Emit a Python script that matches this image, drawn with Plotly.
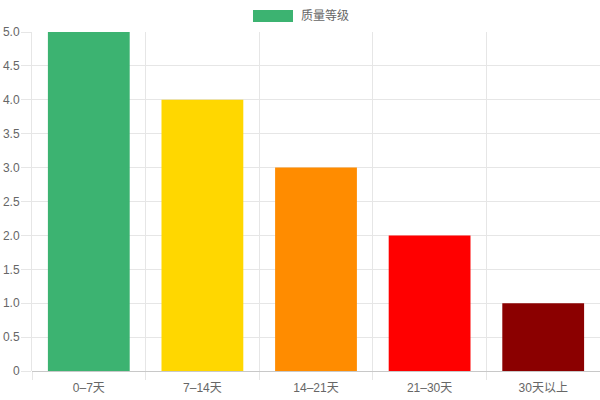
import plotly.graph_objects as go

categories = ["0–7天", "7–14天", "14–21天", "21–30天", "30天以上"]
values = [5, 4, 3, 2, 1]
bar_colors = ["#3cb371", "#ffd700", "#ff8c00", "#ff0000", "#8b0000"]
series_name = "质量等级"
y_tick_vals = [0, 0.5, 1, 1.5, 2, 2.5, 3, 3.5, 4, 4.5, 5]
y_tick_text = ["0", "0.5", "1.0", "1.5", "2.0", "2.5", "3.0", "3.5", "4.0", "4.5", "5.0"]

W, H = 600, 400
L, R, T, B = 32, 0, 32, 29
pw, ph = W - L - R, H - T - B

def px_x(p):
    return (p - L) / pw

def px_y(p):
    return (H - B - p) / ph

x_idx = list(range(len(categories)))
boundaries = [i - 0.5 for i in range(len(categories) + 1)]

font_family = "Liberation Sans, Arial, Noto Sans CJK SC, sans-serif"
grid = "#e6e6e6"

fig = go.Figure(go.Bar(
    x=x_idx, y=values, name=series_name,
    marker=dict(color=bar_colors, line=dict(width=0)),
    showlegend=False, hoverinfo="x+y",
))

fig.update_layout(
    width=W, height=H,
    margin=dict(l=L, r=R, t=T, b=B, pad=0),
    paper_bgcolor="white", plot_bgcolor="white",
    bargap=0.28,
    font=dict(family=font_family, size=12, color="#666666"),
    xaxis=dict(
        range=[-0.5, len(categories) - 0.5],
        tickmode="array", tickvals=x_idx, ticktext=categories,
        ticks="", showgrid=False, zeroline=False, showline=False,
        tickfont=dict(size=12, color="#666666"),
        ticklabelstandoff=8,
        automargin=False,
        minor=dict(
            tickmode="array", tickvals=boundaries,
            ticks="outside", ticklen=8, tickcolor=grid, tickwidth=1,
            showgrid=True, gridcolor=grid, gridwidth=1,
        ),
        fixedrange=True,
    ),
    yaxis=dict(
        range=[0, 5],
        tickmode="array", tickvals=y_tick_vals, ticktext=y_tick_text,
        ticks="outside", ticklen=10, tickcolor=grid, tickwidth=1,
        showgrid=True, gridcolor=grid, gridwidth=1,
        zeroline=True, zerolinecolor="#c8c8c8", zerolinewidth=1,
        showline=True, linecolor=grid, linewidth=1,
        tickfont=dict(size=12, color="#666666"),
        ticklabelstandoff=-1,
        automargin=False,
        fixedrange=True,
    ),
    shapes=[dict(
        type="rect", xref="paper", yref="paper",
        x0=px_x(253), x1=px_x(293), y0=px_y(22), y1=px_y(10),
        fillcolor=bar_colors[0], line=dict(width=0), layer="above",
    )],
    annotations=[dict(
        text=series_name, xref="paper", yref="paper",
        x=px_x(299), y=px_y(16), xanchor="left", yanchor="middle",
        showarrow=False, font=dict(size=12, color="#666666"),
    )],
)

fig.write_html(
    "out.html",
    config={"displayModeBar": False},
    post_script="document.body.style.margin='0';document.body.style.overflow='hidden';",
)
